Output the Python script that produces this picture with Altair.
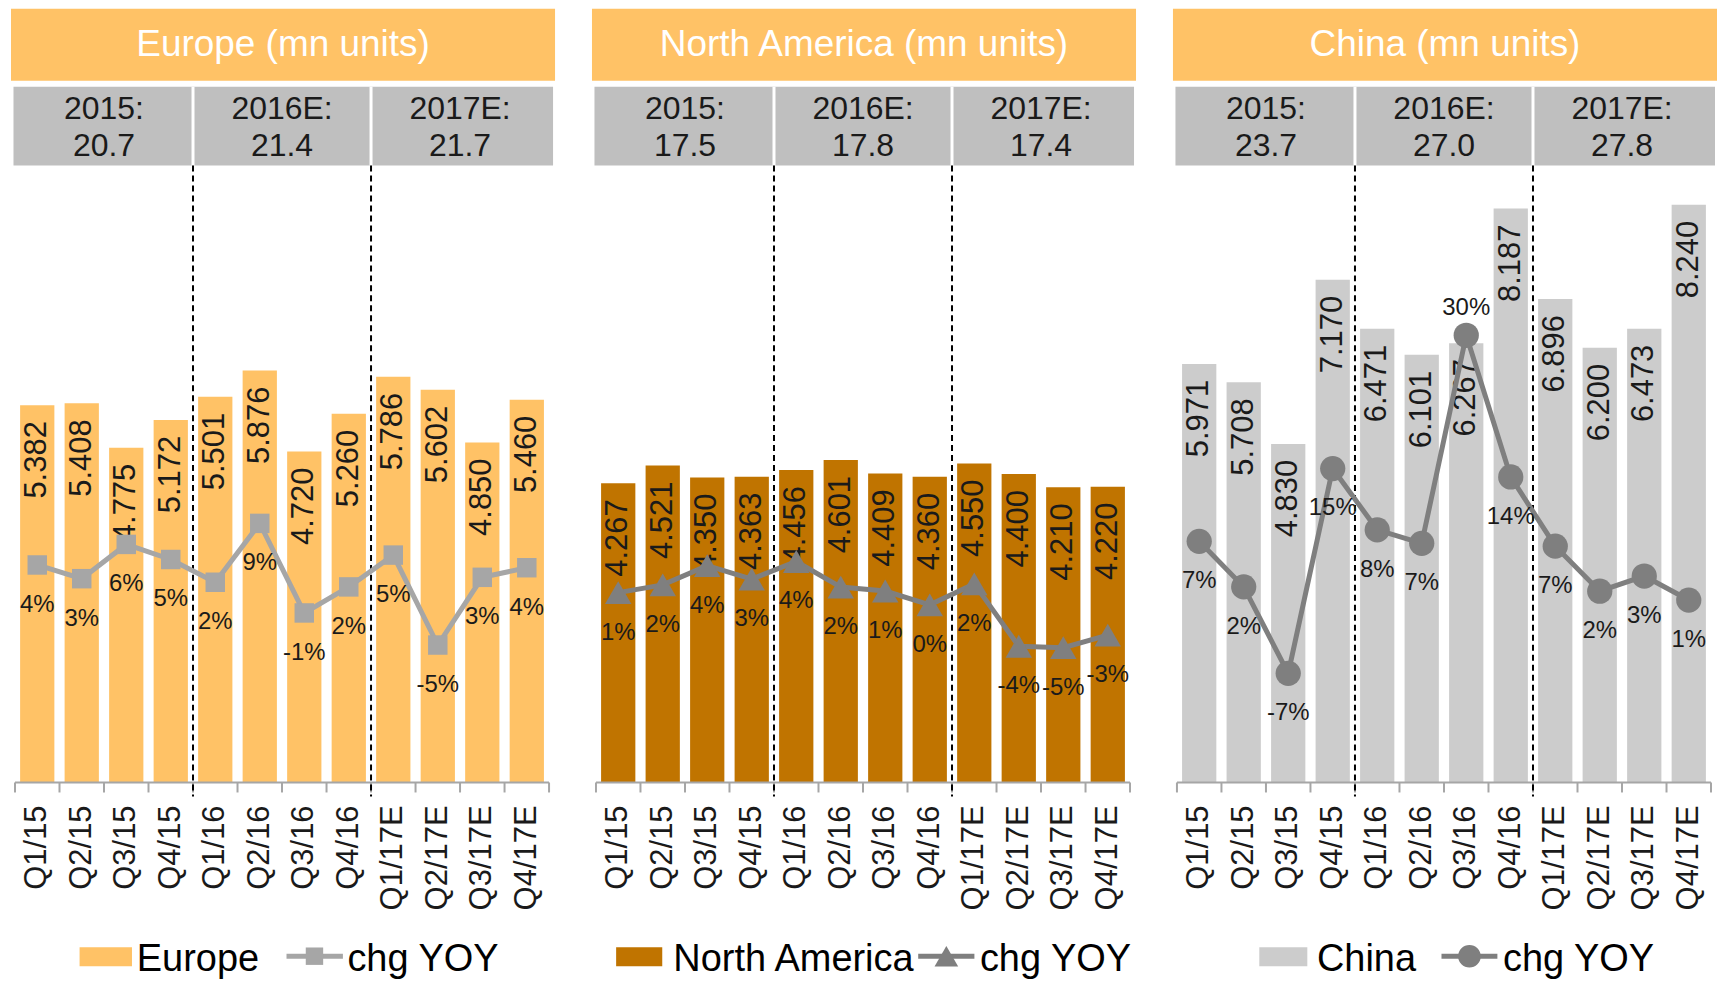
import altair as alt
import pandas as pd

# ---------------- data ----------------
quarters = ["Q1/15", "Q2/15", "Q3/15", "Q4/15", "Q1/16", "Q2/16", "Q3/16", "Q4/16",
            "Q1/17E", "Q2/17E", "Q3/17E", "Q4/17E"]
years = ["2015:", "2016E:", "2017E:"]

europe_units = [5.382, 5.408, 4.775, 5.172, 5.501, 5.876, 4.720, 5.260, 5.786, 5.602, 4.850, 5.460]
europe_yoy = [4.1, 2.6, 6.35, 4.7, 2.21, 8.65, -1.15, 1.70, 5.18, -4.66, 2.75, 3.80]
europe_totals = [20.7, 21.4, 21.7]

na_units = [4.267, 4.521, 4.350, 4.363, 4.456, 4.601, 4.409, 4.360, 4.550, 4.400, 4.210, 4.220]
na_yoy = [1.2, 2.0, 4.0, 2.6, 4.43, 1.77, 1.36, -0.07, 2.10, -4.37, -4.51, -3.21]
na_totals = [17.5, 17.8, 17.4]

china_units = [5.971, 5.708, 4.830, 7.170, 6.471, 6.101, 6.267, 8.187, 6.896, 6.200, 6.473, 8.240]
china_yoy = [7.1, 2.1, -7.4, 15.1, 8.37, 6.88, 29.75, 14.18, 6.57, 1.62, 3.29, 0.65]
china_totals = [23.7, 27.0, 27.8]

# ---------------- style ----------------
FONT = "Liberation Sans, Arial, sans-serif"
ORANGE = "#FFC266"
HEADER_GRAY = "#BFBFBF"
AXIS_GRAY = "#A6A6A6"
TEXT = "#1a1a1a"
W, H = 535, 618

xs = alt.Scale(domain=[-0.5, 11.5], nice=False, zero=False)
n = len(quarters)


def panel(title, name, units, yoy, totals, bar_color, line_color, shape, msize,
          yoy_domain, leg):
    df = pd.DataFrame({"quarter": quarters, "i": list(range(n)), "units": units, "yoy": yoy})
    df["x0"] = df["i"] - 0.385
    df["x1"] = df["i"] + 0.385
    df["zero"] = 0.0
    df["unit_label"] = [f"{v:.3f}" for v in units]
    df["yoy_label"] = [f"{round(v)}%" for v in yoy]

    groups = pd.DataFrame({
        "year": years,
        "total": [f"{t:.1f}" for t in totals],
        "center": [g * 4 + 1.5 for g in range(len(years))],
    })
    bounds = pd.DataFrame({"b": [g * 4 + 3.5 for g in range(len(years) - 1)]})
    ticks = pd.DataFrame({"t": [k - 0.5 for k in range(n + 1)]})
    domain_df = pd.DataFrame({"a": [-0.5], "b": [n - 0.5]})
    one = pd.DataFrame({"a": [0]})

    ys = alt.Scale(domain=[0, 8.8], nice=False, zero=True)
    ys2 = alt.Scale(domain=yoy_domain, nice=False, zero=False)
    X = lambda f: alt.X(f, scale=xs, axis=None)

    base = alt.Chart(df)
    bars = base.mark_rect(color=bar_color).encode(
        x=X("x0:Q"), x2="x1:Q",
        y=alt.Y("units:Q", scale=ys, axis=None), y2="zero:Q")
    bar_labels = base.mark_text(angle=270, align="right", baseline="middle", dx=-16,
                                fontSize=31, font=FONT, color=TEXT).encode(
        x=X("i:Q"), y=alt.Y("units:Q", scale=ys, axis=None), text="unit_label:N")

    # x axis: domain line, boundary ticks, rotated quarter labels
    ax_domain = alt.Chart(domain_df).mark_rule(color=AXIS_GRAY, strokeWidth=2).encode(
        x=X("a:Q"), x2="b:Q", y=alt.value(H))
    ax_ticks = alt.Chart(ticks).mark_rule(color=AXIS_GRAY, strokeWidth=2).encode(
        x=X("t:Q"), y=alt.value(H), y2=alt.value(H + 10))
    ax_labels = base.mark_text(angle=270, align="right", baseline="middle",
                               fontSize=31, font=FONT, color=TEXT).encode(
        x=X("i:Q"), y=alt.value(H + 23), text="quarter:N")

    line = base.mark_line(color=line_color, strokeWidth=5).encode(
        x=X("i:Q"), y=alt.Y("yoy:Q", scale=ys2, axis=None))
    pts = base.mark_point(shape=shape, size=msize, filled=True, opacity=1,
                          color=line_color).encode(
        x=X("i:Q"), y=alt.Y("yoy:Q", scale=ys2, axis=None))
    yoy_below = base.transform_filter("datum.yoy < 20").mark_text(
        dy=40, fontSize=24, font=FONT, color=TEXT, align="center", baseline="middle").encode(
        x=X("i:Q"), y=alt.Y("yoy:Q", scale=ys2, axis=None), text="yoy_label:N")
    yoy_above = base.transform_filter("datum.yoy >= 20").mark_text(
        dy=-27, fontSize=24, font=FONT, color=TEXT, align="center", baseline="middle").encode(
        x=X("i:Q"), y=alt.Y("yoy:Q", scale=ys2, axis=None), text="yoy_label:N")

    header = alt.Chart(one).mark_rect(color=ORANGE).encode(
        x=alt.value(-4), x2=alt.value(541), y=alt.value(-157), y2=alt.value(-85))
    header_text = alt.Chart(one).mark_text(
        text=title, color="white", fontSize=37, font=FONT, align="center",
        baseline="middle").encode(x=alt.value(268.5), y=alt.value(-121))
    gray_row = alt.Chart(one).mark_rect(color=HEADER_GRAY).encode(
        x=alt.value(-1.5), x2=alt.value(539), y=alt.value(-79), y2=alt.value(0))
    gray_sep = alt.Chart(bounds).mark_rule(color="white", strokeWidth=3).encode(
        x=X("b:Q"), y=alt.value(-79), y2=alt.value(0))
    year1 = alt.Chart(groups).mark_text(fontSize=32, font=FONT, color=TEXT,
                                        baseline="middle").encode(
        x=X("center:Q"), y=alt.value(-57), text="year:N")
    year2 = alt.Chart(groups).mark_text(fontSize=32, font=FONT, color=TEXT,
                                        baseline="middle").encode(
        x=X("center:Q"), y=alt.value(-20), text="total:N")
    dashed = alt.Chart(bounds).mark_rule(color="black", strokeWidth=2,
                                         strokeDash=[6, 4]).encode(
        x=X("b:Q"), y=alt.value(0), y2=alt.value(632))

    sw0, sw1, t1, l0, l1, mk, t2 = leg
    leg_sw = alt.Chart(one).mark_rect(color=bar_color).encode(
        x=alt.value(sw0), x2=alt.value(sw1), y=alt.value(783), y2=alt.value(802))
    leg_t1 = alt.Chart(one).mark_text(text=name, fontSize=38, font=FONT, color="black",
                                      align="left", baseline="alphabetic").encode(
        x=alt.value(t1), y=alt.value(807))
    leg_line = alt.Chart(one).mark_rule(color=line_color, strokeWidth=5).encode(
        x=alt.value(l0), x2=alt.value(l1), y=alt.value(792))
    leg_mk = alt.Chart(one).mark_point(shape=shape, size=msize * 0.8, filled=True,
                                       opacity=1, color=line_color).encode(
        x=alt.value(mk), y=alt.value(792))
    leg_t2 = alt.Chart(one).mark_text(text="chg YOY", fontSize=38, font=FONT, color="black",
                                      align="left", baseline="alphabetic").encode(
        x=alt.value(t2), y=alt.value(807))

    return alt.layer(
        header, header_text, gray_row, gray_sep, year1, year2,
        bars, bar_labels, ax_domain, ax_ticks, ax_labels, dashed,
        line, pts, yoy_below, yoy_above,
        leg_sw, leg_t1, leg_line, leg_mk, leg_t2,
    ).resolve_scale(y="independent").properties(width=W, height=H)


eu = panel("Europe (mn units)", "Europe", europe_units, europe_yoy, europe_totals,
           ORANGE, "#A6A6A6", "square", 380, [-19.7, 47.8],
           (64.7, 117.2, 122, 272, 328.5, 300, 333))
na = panel("North America (mn units)", "North America", na_units, na_yoy, na_totals,
           "#C07400", "#7F7F7F", "triangle-up", 700, [-18.5, 45.5],
           (20.2, 66.4, 77.5, 322.8, 379.1, 351, 384.6))
cn = panel("China (mn units)", "China", china_units, china_yoy, china_totals,
           "#CCCCCC", "#7F7F7F", "circle", 640, [-19.4, 48.4],
           (82.5, 130.6, 140.2, 265, 321, 293, 326.6))

chart = alt.hconcat(eu, na, cn, spacing=47, bounds="flush").properties(
    padding={"left": 3, "top": 0, "right": 2, "bottom": 2},
    background="white",
).configure_view(stroke=None)

chart.save("out.html", embed_options={"renderer": "svg", "actions": False})
